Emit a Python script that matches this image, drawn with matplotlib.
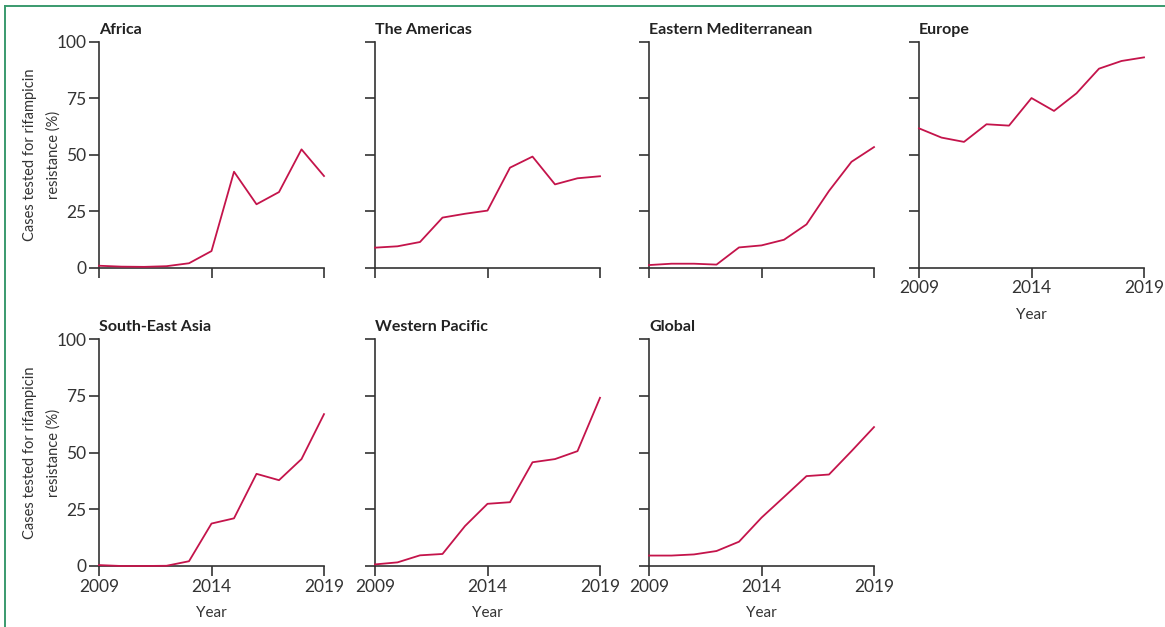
import numpy as np
import matplotlib
matplotlib.use('Agg')
import matplotlib.pyplot as plt
from matplotlib.lines import Line2D

plt.rcParams['font.family'] = ['Lato', 'DejaVu Sans']

# Datos: porcentaje de casos con prueba de resistencia a rifampicina
anios = [2009, 2010, 2011, 2012, 2013, 2014, 2015, 2016, 2017, 2018, 2019]

africa = [1.0, 0.6, 0.5, 0.8, 2.1, 7.5, 42.6, 28.2, 33.6, 52.5, 40.7]
americas = [9.0, 9.6, 11.5, 22.3, 24.0, 25.4, 44.4, 49.3, 37.0, 39.7, 40.6]
mediterraneo = [1.3, 1.9, 1.9, 1.5, 9.1, 10.0, 12.5, 19.3, 34.1, 47.0, 53.5]
europa = [61.8, 57.7, 55.8, 63.6, 63.0, 75.2, 69.5, 77.3, 88.2, 91.6, 93.2]
asia_se = [0.4, 0.0, 0.0, 0.1, 2.1, 18.7, 21.0, 40.6, 37.8, 47.1, 66.9]
pacifico = [0.7, 1.6, 4.7, 5.3, 17.6, 27.4, 28.1, 45.7, 47.1, 50.6, 74.1]
mundial = [4.6, 4.6, 5.1, 6.6, 10.7, 21.3, 30.4, 39.6, 40.3, 50.6, 61.2]

regiones = ['Africa', 'The Americas', 'Eastern Mediterranean', 'Europe',
            'South-East Asia', 'Western Pacific', 'Global']
series = [africa, americas, mediterraneo, europa, asia_se, pacifico, mundial]

ticks_x = [2009, 2014, 2019]
ticks_y = [0, 25, 50, 75, 100]

ROJO = '#c4144b'
GRIS = '#333333'
W, H = 1165, 627

fig = plt.figure(figsize=(W / 100, H / 100), dpi=100)

# marco verde (solo arriba e izquierda)
borde = '#3a9a6e'
fig.add_artist(Line2D([5 / W, 1], [1 - 6 / H, 1 - 6 / H], color=borde, lw=1.4,
                      transform=fig.transFigure))
fig.add_artist(Line2D([5 / W, 5 / W], [0, 1 - 6 / H], color=borde, lw=1.4,
                      transform=fig.transFigure))

izquierdas = [99, 375, 649, 919]
filas = [(42, 268), (339, 566)]
ancho = 225

# posición de cada panel: (fila, columna)
celdas = [(0, 0), (0, 1), (0, 2), (0, 3), (1, 0), (1, 1), (1, 2)]

for nombre, valores, (fila, col) in zip(regiones, series, celdas):
    top, bot = filas[fila]
    ax = fig.add_axes([izquierdas[col] / W, 1 - bot / H, ancho / W, (bot - top) / H])
    ax.plot(anios, valores, color=ROJO, lw=1.3, clip_on=False, zorder=3)
    ax.set_xlim(2009, 2019)
    ax.set_ylim(0, 100)
    for lado in ['top', 'right']:
        ax.spines[lado].set_visible(False)
    for lado in ['left', 'bottom']:
        ax.spines[lado].set_color(GRIS)
        ax.spines[lado].set_linewidth(1.2)
    ax.set_xticks(ticks_x)
    ax.set_yticks(ticks_y)
    ax.tick_params(direction='out', length=7, width=1.2, color=GRIS,
                   labelcolor=GRIS, labelsize=12.5, pad=2)
    ax.set_title(nombre, loc='left', fontsize=11.5, fontweight='bold',
                 color='#222222', pad=6)

    # etiquetas de x solo en los paneles sin nada debajo
    if fila == 1 or col == 3:
        ax.set_xlabel('Year', fontsize=11, color=GRIS, labelpad=8)
    else:
        ax.set_xticklabels([])
    if col == 0:
        ax.set_ylabel('Cases tested for rifampicin\nresistance (%)',
                      fontsize=10.5, color=GRIS, labelpad=-3, linespacing=1.8)
    else:
        ax.set_yticklabels([])

fig.savefig('out.png', dpi=100)
